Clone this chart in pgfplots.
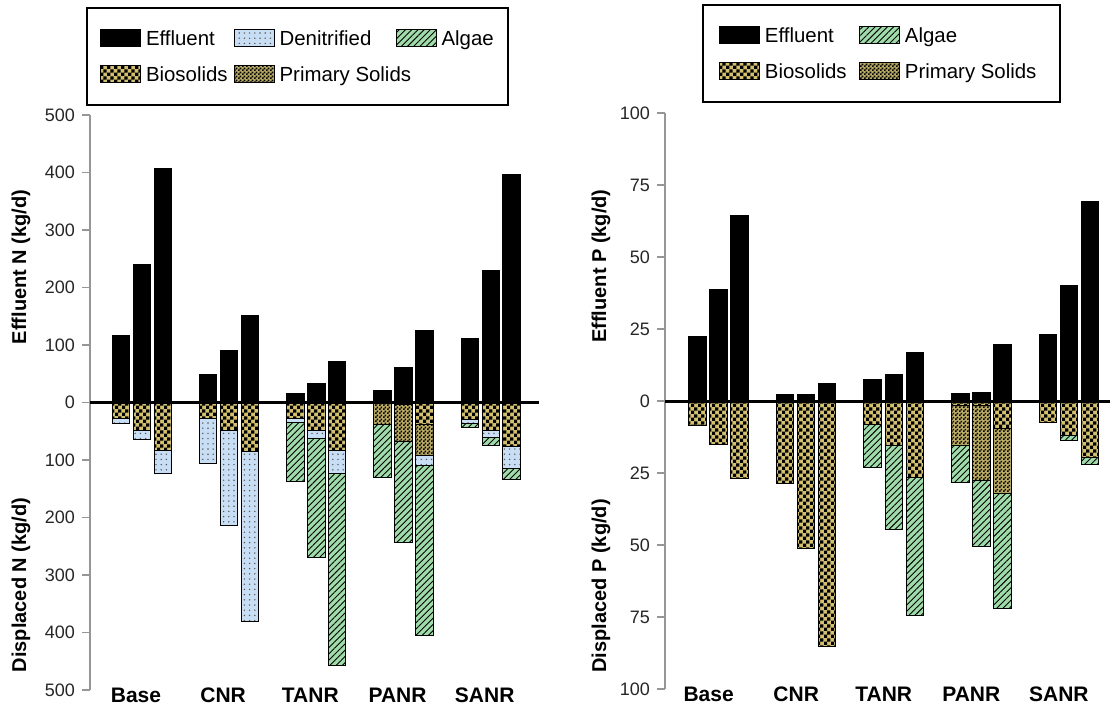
\documentclass[border=0pt]{standalone}
\usepackage{fontspec}
\setmainfont{Liberation Sans}
\usepackage{pgfplots}
\pgfplotsset{compat=1.18}
\usepackage{pgfplotstable}
\usetikzlibrary{patterns,patterns.meta}

\pgfdeclarepatternformonly{bigcheck}{\pgfpointorigin}{\pgfqpoint{3.6pt}{3.6pt}}{\pgfqpoint{3.6pt}{3.6pt}}{%
 \pgfpathrectangle{\pgfpointorigin}{\pgfqpoint{1.8pt}{1.8pt}}%
 \pgfpathrectangle{\pgfqpoint{1.8pt}{1.8pt}}{\pgfqpoint{1.8pt}{1.8pt}}%
 \pgfusepath{fill}}
\pgfdeclarepatternformonly{smallcheck}{\pgfpointorigin}{\pgfqpoint{1.8pt}{1.8pt}}{\pgfqpoint{1.8pt}{1.8pt}}{%
 \pgfpathrectangle{\pgfpointorigin}{\pgfqpoint{0.9pt}{0.9pt}}%
 \pgfpathrectangle{\pgfqpoint{0.9pt}{0.9pt}}{\pgfqpoint{0.9pt}{0.9pt}}%
 \pgfusepath{fill}}
\pgfdeclarepatternformonly{sparsedots}{\pgfqpoint{-1pt}{-1pt}}{\pgfqpoint{1pt}{1pt}}{\pgfqpoint{2.6pt}{2.6pt}}{%
 \pgfpathcircle{\pgfpointorigin}{0.4pt}\pgfusepath{fill}}

\definecolor{denc}{RGB}{200,222,245}
\definecolor{algc}{RGB}{160,220,170}
\definecolor{bioc}{RGB}{210,192,110}
\definecolor{pric}{RGB}{185,170,100}
\definecolor{axgray}{RGB}{150,150,150}

\pgfplotsset{
 effst/.style={fill=black, draw=black},
 denst/.style={fill=denc, draw=black, postaction={pattern=sparsedots, pattern color=black!65}},
 algst/.style={fill=algc, draw=black, postaction={pattern={Lines[angle=45,distance=2.2pt,line width=0.45pt]}, pattern color=black}},
 biost/.style={fill=bioc, draw=black, postaction={pattern=bigcheck, pattern color=black}},
 prist/.style={fill=pric, draw=black, postaction={pattern=smallcheck, pattern color=black}},
 mybar/.style={ybar, bar width=0.2, bar shift=0pt, line width=0.5pt, forget plot},
 commonax/.style={
   scale only axis, anchor=south west, clip=false,
   axis lines*=left,
   x axis line style={draw=none},
   y axis line style={axgray, line width=0.75pt},
   tick align=outside, major tick length=4pt,
   xtick style={draw=none},
   ytick style={axgray, line width=0.75pt},
   xtick={0,1,2,3,4},
   xticklabels={Base,CNR,TANR,PANR,SANR},
   yticklabel style={font=\fontsize{9}{10}\selectfont, text=black!85},
   legend cell align=left,
   legend image code/.code={\draw[##1, line width=0.5pt] (0pt,-0.5pt) rectangle (20pt,8pt);},
 },
}

% cumulative (stack end) values, kg/d
\pgfplotstableread{
x     eff  alg   den   pri  bio
-0.24 116  -37   -37   -27  -27
0     240  -64   -64   -48  -48
0.24  407  -124  -124  -83  -83
0.76  48   -106  -106  -28  -28
1     91   -214  -214  -48  -48
1.24  151  -380  -380  -85  -85
1.76  15   -138  -35   -27  -27
2     33   -269  -63   -48  -48
2.24  71   -458  -123  -83  -83
2.76  21   -131  -38   -38  0
3     61   -244  -68   -68  -4
3.24  125  -405  -110  -93  -38
3.76  111  -43   -36   -29  -29
4     230  -74   -61   -48  -48
4.24  397  -134  -114  -76  -76
}\Ntab

\pgfplotstableread{
x     eff   alg    pri    bio
-0.24 22.3  -8.6   -8.6   -8.6
0     38.6  -15.2  -15.2  -15.2
0.24  64.5  -26.9  -26.9  -26.9
0.76  2.3   -28.6  -28.6  -28.6
1     2.3   -51.2  -51.2  -51.2
1.24  6.0   -85.4  -85.4  -85.4
1.76  7.5   -23.2  -8.3   -8.3
2     9.2   -44.5  -15.3  -15.3
2.24  16.9  -74.5  -26.7  -26.7
2.76  2.6   -28.2  -15.6  -1.5
3     2.9   -50.6  -27.6  -1.5
3.24  19.6  -72.1  -32.0  -9.4
3.76  23.2  -7.6   -7.6   -7.6
4     40.2  -13.6  -12.0  -12.0
4.24  69.4  -22.0  -19.6  -19.6
}\Ptab

\newcommand{\legtxt}[2]{\makebox[#1][l]{\hspace{2.3pt}#2\rule[-6.5pt]{0pt}{15pt}}}

\begin{document}
\begin{tikzpicture}
\useasboundingbox (0,0) rectangle (555pt,354.5pt);

% ---------------- Nitrogen ----------------
\begin{axis}[commonax,
  at={(45pt,9.5pt)}, width=224.6pt, height=287.5pt,
  xmin=-0.596, xmax=4.556, ymin=-500, ymax=500,
  ytick={-500,-400,-300,-200,-100,0,100,200,300,400,500},
  yticklabels={500,400,300,200,100,0,100,200,300,400,500},
  xticklabel style={font=\bfseries\fontsize{10.5}{12}\selectfont, anchor=center, yshift=1.5pt, xshift=-3pt},
  legend columns=3,
  legend style={at={(-0.0089,1.1885)}, anchor=north west, draw=black, line width=1pt,
    inner xsep=6.7pt, inner ysep=10.35pt, row sep=8pt, column sep=0pt,
    font=\fontsize{10.2}{12}\selectfont, nodes={inner sep=0pt, anchor=base west}},
]
\addplot[mybar, effst] table[x=x,y=eff]{\Ntab};
\addplot[mybar, algst] table[x=x,y=alg]{\Ntab};
\addplot[mybar, denst] table[x=x,y=den]{\Ntab};
\addplot[mybar, prist] table[x=x,y=pri]{\Ntab};
\addplot[mybar, biost] table[x=x,y=bio]{\Ntab};
\addplot[black, line width=1.5pt, forget plot] coordinates {(-0.596,0) (4.556,0)};
\addlegendimage{effst}\addlegendentry{\legtxt{46.3pt}{Effluent}}
\addlegendimage{denst}\addlegendentry{\legtxt{60.5pt}{Denitrified}}
\addlegendimage{algst}\addlegendentry{\legtxt{28.8pt}{Algae}}
\addlegendimage{biost}\addlegendentry{\legtxt{46.3pt}{Biosolids}}
\addlegendimage{prist}\addlegendentry{\legtxt{60.5pt}{Primary Solids}}
\end{axis}

% ---------------- Phosphorus ----------------
\begin{axis}[commonax,
  at={(332.5pt,10pt)}, width=222.5pt, height=288pt,
  xmin=-0.613, xmax=4.47, ymin=-100, ymax=100,
  ytick={-100,-75,-50,-25,0,25,50,75,100},
  yticklabels={100,75,50,25,0,25,50,75,100},
  xticklabel style={font=\bfseries\fontsize{10.5}{12}\selectfont, anchor=center, yshift=1.5pt, xshift=-5pt},
  legend columns=2,
  legend style={at={(0.0822,1.1892)}, anchor=north west, draw=black, line width=1pt,
    inner xsep=8.4pt, inner ysep=10.35pt, row sep=8pt, column sep=0pt,
    font=\fontsize{10.2}{12}\selectfont, nodes={inner sep=0pt, anchor=base west}},
]
\addplot[mybar, effst] table[x=x,y=eff]{\Ptab};
\addplot[mybar, algst] table[x=x,y=alg]{\Ptab};
\addplot[mybar, prist] table[x=x,y=pri]{\Ptab};
\addplot[mybar, biost] table[x=x,y=bio]{\Ptab};
\addplot[black, line width=1.5pt, forget plot] coordinates {(-0.613,0) (4.47,0)};
\addlegendimage{effst}\addlegendentry{\legtxt{49.5pt}{Effluent}}
\addlegendimage{algst}\addlegendentry{\legtxt{71.4pt}{Algae}}
\addlegendimage{biost}\addlegendentry{\legtxt{49.5pt}{Biosolids}}
\addlegendimage{prist}\addlegendentry{\legtxt{71.4pt}{Primary Solids}}
\end{axis}

\begin{scope}[every node/.style={rotate=90, font=\bfseries\fontsize{10}{12}\selectfont}]
\node at (10.5pt,221pt) {Effluent N (kg/d)};
\node at (10.5pt,62pt) {Displaced N (kg/d)};
\node at (300.5pt,221.5pt) {Effluent P (kg/d)};
\node at (300.5pt,61.5pt) {Displaced P (kg/d)};
\end{scope}
\end{tikzpicture}
\end{document}
